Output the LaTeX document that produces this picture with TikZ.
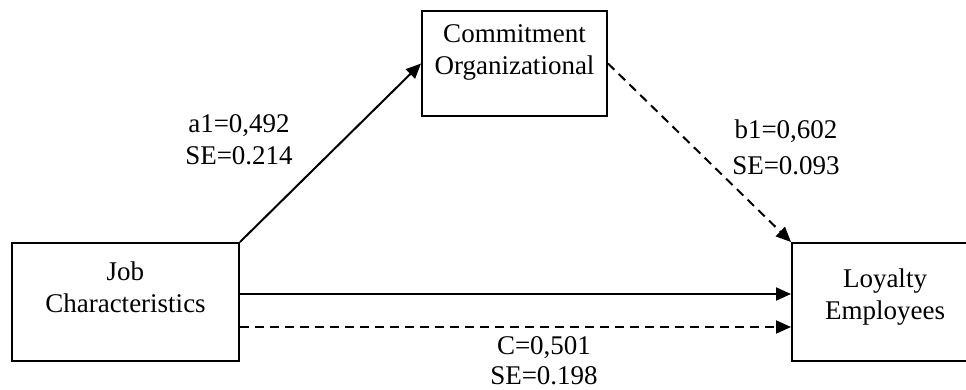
\documentclass[tikz,border=0pt]{standalone}
\usepackage{fontspec}
\setmainfont{Liberation Serif}
\usetikzlibrary{positioning,arrows.meta}

\begin{document}
\begin{tikzpicture}[
        x=0.5pt, y=-0.5pt,
        box/.style={rectangle, draw, line width=1pt, inner sep=0pt},
        boxtext/.style={align=center, inner sep=0pt},
        solidline/.style={-{Triangle[length=7.5pt,width=6.5pt]}, line width=1pt},
        dashedline/.style={-{Triangle[length=7.5pt,width=6.5pt]}, line width=1pt, dash pattern=on 4.5pt off 3pt},
        coef/.style={align=center, inner sep=0pt},
        font=\fontsize{13.5}{16}\selectfont
    ]
    \useasboundingbox (0,0) rectangle (966,390);

    % Job Characteristics (left)
    \node[box, minimum width=113.5pt, minimum height=59pt] (job) at (125.5,302) {};
    \node[boxtext] (jobtext) at ([yshift=7.5pt]job.center) {Job\\Characteristics};

    % Commitment Organizational (top)
    \node[box, minimum width=92.5pt, minimum height=52.5pt] (org) at (514.5,63.5) {};
    \node[boxtext] (orgtext) at ([yshift=5.5pt]org.center) {Commitment\\Organizational};

    % Loyalty Employees (right)
    \node[box, minimum width=93pt, minimum height=59pt] (loy) at (885,302) {};
    \node[boxtext] (loytext) at ([yshift=2.25pt]loy.center) {Loyalty\\Employees};

    % paths
    \draw[solidline] (job.north east) -- (org.west);
    \draw[dashedline] (org.east) -- (loy.north west);
    \draw[solidline] ([yshift=4pt]job.east) -- ([yshift=4pt]loy.west);
    \draw[dashedline] ([yshift=-12.5pt]job.east) -- ([yshift=-12.5pt]loy.west);

    % coefficients
    \node[coef] (a1) at (239,140) {a1=0,492\\SE=0.214};
    \node[coef] (b1) at (786,147) {b1=0,602\\[2pt]SE=0.093};
    \node[coef] (c) at (544,361) {C=0,501\\[-1pt]SE=0.198};

\end{tikzpicture}
\end{document}
